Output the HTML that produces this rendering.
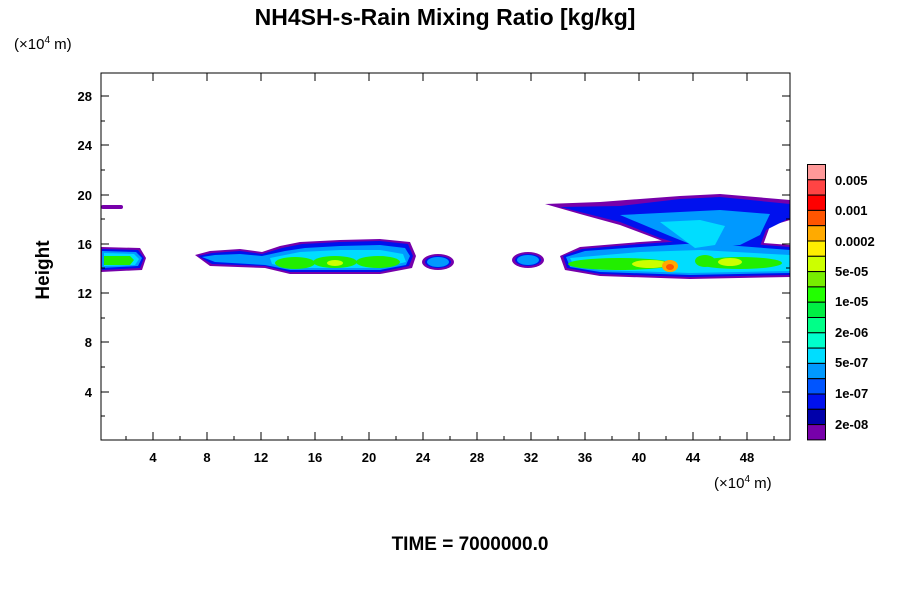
<!DOCTYPE html>
<html><head><meta charset="utf-8"><style>
body{margin:0;background:#fff;}
svg text{font-family:"Liberation Sans",sans-serif;}
</style></head><body>
<svg width="900" height="600" viewBox="0 0 900 600" xmlns="http://www.w3.org/2000/svg">
<rect width="900" height="600" fill="#fff"/>
<text x="445" y="25" text-anchor="middle" font-size="23" font-weight="bold">NH4SH-s-Rain Mixing Ratio [kg/kg]</text>
<text x="14" y="49" font-size="15">(×10<tspan dy="-6" font-size="10">4</tspan><tspan dy="6"> m)</tspan></text>
<text x="714" y="488" font-size="15">(×10<tspan dy="-6" font-size="10">4</tspan><tspan dy="6"> m)</tspan></text>
<text x="470" y="550" text-anchor="middle" font-size="19" font-weight="bold">TIME = 7000000.0</text>
<text x="49" y="270" text-anchor="middle" font-size="19" font-weight="bold" transform="rotate(-90 49 270)">Height</text>

<g id="data">
<g fill="#7700aa">
<rect x="101" y="205" width="22" height="4" rx="2"/>
<path d="M101 247 L140 248 L146 258 L142 270 L101 272 Z"/>
<path d="M195 255 L210 251 L240 249 L262 252 L280 246 L300 242 L340 240 L380 239 L410 242 L416 256 L412 268 L380 274 L290 274 L265 268 L210 266 Z"/>
<ellipse cx="438" cy="262" rx="16" ry="8"/>
<ellipse cx="528" cy="260" rx="16" ry="8"/>
<path d="M560 256 L580 247 L640 242 L700 238 L790 245 L790 277 L690 279 L600 276 L565 270 Z"/>
<path d="M545 204 L600 202 L680 196 L720 194 L790 200 L790 220 L770 226 L762 248 L700 252 L660 240 L620 225 L580 214 Z"/>
</g>
<g fill="#0011ee">
<path d="M102 249 L138 250 L144 258 L140 268 L102 270 Z"/>
<path d="M198 256 L212 253 L240 251 L262 254 L282 248 L302 244 L340 242 L380 241 L408 244 L413 256 L409 266 L380 272 L290 272 L265 266 L212 264 Z"/>
<ellipse cx="438" cy="262" rx="13" ry="6"/>
<ellipse cx="528" cy="260" rx="13" ry="6"/>
<path d="M563 256 L582 249 L640 244 L700 240 L790 247 L790 275 L690 277 L600 274 L567 268 Z"/>
<path d="M560 207 L620 206 L680 199 L720 197 L790 204 L790 218 L766 230 L760 246 L700 250 L660 238 L620 222 L580 212 Z"/>
</g>
<g fill="#0099ff">
<path d="M102 251 L136 252 L142 258 L138 266 L102 268 Z"/>
<path d="M202 257 L215 255 L240 254 L262 256 L285 251 L305 248 L340 246 L380 245 L405 248 L410 256 L406 265 L380 270 L290 270 L265 265 L215 262 Z"/>
<ellipse cx="438" cy="262" rx="11" ry="5"/>
<ellipse cx="528" cy="260" rx="11" ry="5"/>
<path d="M566 257 L585 251 L640 247 L700 243 L790 250 L790 273 L690 275 L600 272 L570 267 Z"/>
<path d="M620 215 L680 212 L720 210 L770 214 L760 235 L740 245 L700 248 L670 236 Z"/>
</g>
<g fill="#00ddff">
<path d="M104 253 L134 254 L139 259 L135 265 L104 266 Z"/>
<path d="M270 258 L300 252 L340 250 L380 250 L403 254 L406 262 L380 268 L290 268 L272 264 Z"/>
<path d="M570 258 L640 252 L700 250 L790 255 L790 271 L690 273 L600 270 L574 266 Z"/>
<path d="M660 222 L700 220 L725 226 L715 245 L695 248 Z"/>
</g>
<g fill="#22ee00">
<path d="M104 256 L130 256 L134 260 L130 265 L104 265 Z"/>
<ellipse cx="295" cy="263" rx="20" ry="6"/>
<ellipse cx="335" cy="262" rx="22" ry="6"/>
<ellipse cx="378" cy="262" rx="22" ry="6"/>
<ellipse cx="620" cy="264" rx="52" ry="6"/>
<ellipse cx="740" cy="263" rx="42" ry="6"/>
<ellipse cx="705" cy="261" rx="10" ry="6"/>
</g>
<g fill="#ccff00">
<ellipse cx="335" cy="263" rx="8" ry="3"/>
<ellipse cx="650" cy="264" rx="18" ry="4"/>
<ellipse cx="730" cy="262" rx="12" ry="4"/>
</g>
<ellipse cx="670" cy="266" rx="8" ry="6" fill="#ffaa00"/>
<ellipse cx="670" cy="267" rx="4" ry="3" fill="#ff5500"/>
</g>

<rect x="101" y="73" width="689" height="367" fill="none" stroke="#000" stroke-width="1"/>
<g stroke="#000" stroke-width="1">
<path d="M153 440v-8M207 440v-8M261 440v-8M315 440v-8M369 440v-8M423 440v-8M477 440v-8M531 440v-8M585 440v-8M639 440v-8M693 440v-8M747 440v-8"/>
<path d="M126 440v-4M180 440v-4M234 440v-4M288 440v-4M342 440v-4M396 440v-4M450 440v-4M504 440v-4M558 440v-4M612 440v-4M666 440v-4M720 440v-4M774 440v-4"/>
<path d="M153 73v8M207 73v8M261 73v8M315 73v8M369 73v8M423 73v8M477 73v8M531 73v8M585 73v8M639 73v8M693 73v8M747 73v8"/>
<path d="M101 392h8M101 342h8M101 293h8M101 244h8M101 195h8M101 145h8M101 96h8"/>
<path d="M101 416h4M101 367h4M101 318h4M101 268h4M101 219h4M101 170h4M101 121h4"/>
<path d="M790 392h-8M790 342h-8M790 293h-8M790 244h-8M790 195h-8M790 145h-8M790 96h-8"/>
<path d="M790 416h-4M790 367h-4M790 318h-4M790 268h-4M790 219h-4M790 170h-4M790 121h-4"/>
</g>
<g font-size="13" font-weight="bold" text-anchor="middle">
<text x="153" y="462">4</text><text x="207" y="462">8</text><text x="261" y="462">12</text><text x="315" y="462">16</text><text x="369" y="462">20</text><text x="423" y="462">24</text><text x="477" y="462">28</text><text x="531" y="462">32</text><text x="585" y="462">36</text><text x="639" y="462">40</text><text x="693" y="462">44</text><text x="747" y="462">48</text>
</g>
<g font-size="13" font-weight="bold" text-anchor="end">
<text x="92" y="397">4</text><text x="92" y="347">8</text><text x="92" y="298">12</text><text x="92" y="249">16</text><text x="92" y="200">20</text><text x="92" y="150">24</text><text x="92" y="101">28</text>
</g>

<g stroke="#000" stroke-width="1">
<rect x="807.5" y="164.5" width="18" height="15.3" fill="#ff9999"/>
<rect x="807.5" y="179.8" width="18" height="15.3" fill="#ff4444"/>
<rect x="807.5" y="195.1" width="18" height="15.3" fill="#ff0000"/>
<rect x="807.5" y="210.4" width="18" height="15.3" fill="#ff5500"/>
<rect x="807.5" y="225.7" width="18" height="15.3" fill="#ffaa00"/>
<rect x="807.5" y="241.0" width="18" height="15.3" fill="#ffee00"/>
<rect x="807.5" y="256.3" width="18" height="15.3" fill="#ccff00"/>
<rect x="807.5" y="271.6" width="18" height="15.3" fill="#77ee00"/>
<rect x="807.5" y="286.9" width="18" height="15.3" fill="#22ff00"/>
<rect x="807.5" y="302.2" width="18" height="15.3" fill="#00ee44"/>
<rect x="807.5" y="317.5" width="18" height="15.3" fill="#00ff88"/>
<rect x="807.5" y="332.8" width="18" height="15.3" fill="#00ffcc"/>
<rect x="807.5" y="348.1" width="18" height="15.3" fill="#00ddff"/>
<rect x="807.5" y="363.4" width="18" height="15.3" fill="#0099ff"/>
<rect x="807.5" y="378.7" width="18" height="15.3" fill="#0055ff"/>
<rect x="807.5" y="394.0" width="18" height="15.3" fill="#0011ee"/>
<rect x="807.5" y="409.3" width="18" height="15.3" fill="#0000aa"/>
<rect x="807.5" y="424.6" width="18" height="15.3" fill="#7700aa"/>
</g>
<g font-size="13" font-weight="bold">
<text x="835" y="185">0.005</text><text x="835" y="215">0.001</text><text x="835" y="246">0.0002</text><text x="835" y="276">5e-05</text><text x="835" y="306">1e-05</text><text x="835" y="337">2e-06</text><text x="835" y="367">5e-07</text><text x="835" y="398">1e-07</text><text x="835" y="429">2e-08</text>
</g>
</svg>
</body></html>
